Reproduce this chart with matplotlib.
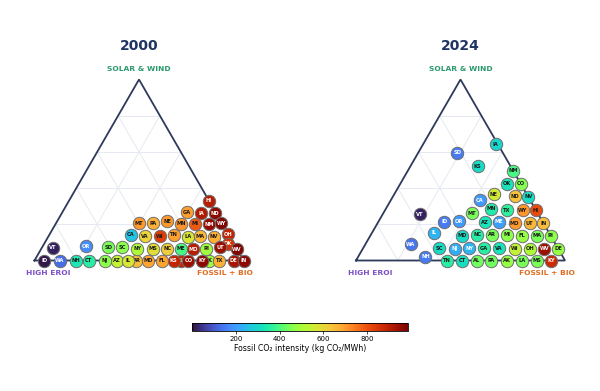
import numpy as np
import matplotlib.pyplot as plt
from matplotlib import colors as mcolors
from matplotlib import cm

# Shares: solar & wind (top corner) and fossil + bio (right corner).
# High EROI (left corner) is the remainder.
states_2000 = ['HI', 'GA', 'IA', 'ND', 'MT', 'PA', 'NE', 'MN', 'MI', 'NM',
               'WY', 'CA', 'VA', 'WI', 'TN', 'LA', 'MA', 'NV', 'OH', 'OK',
               'VT', 'OR', 'SD', 'SC', 'NY', 'MS', 'NC', 'ME', 'MO', 'RI',
               'UT', 'WV', 'ID', 'WA', 'NH', 'CT', 'NJ', 'AZ', 'IL', 'AR',
               'MD', 'FL', 'KS', 'AL', 'CO', 'KY', 'AK', 'TX', 'DE', 'IN']
solar_2000 = [0.330, 0.266, 0.261, 0.262, 0.206, 0.206, 0.217, 0.202, 0.202, 0.199,
              0.207, 0.141, 0.133, 0.135, 0.141, 0.130, 0.135, 0.130, 0.146, 0.092,
              0.071, 0.078, 0.073, 0.073, 0.064, 0.064, 0.064, 0.064, 0.061, 0.064,
              0.072, 0.061, 0.0, 0.0, 0.0, 0.0, 0.0, 0.0, 0.0, 0.0,
              0.0, 0.0, 0.0, 0.0, 0.0, 0.0, 0.0, 0.0, 0.0, 0.0]
fossil_2000 = [0.668, 0.595, 0.666, 0.734, 0.398, 0.463, 0.526, 0.602, 0.666, 0.735,
               0.791, 0.391, 0.460, 0.533, 0.596, 0.671, 0.724, 0.793, 0.854, 0.878,
               0.052, 0.209, 0.317, 0.384, 0.460, 0.536, 0.603, 0.669, 0.728, 0.790,
               0.852, 0.939, 0.047, 0.122, 0.199, 0.259, 0.336, 0.395, 0.449, 0.488,
               0.542, 0.610, 0.666, 0.701, 0.736, 0.803, 0.833, 0.885, 0.953, 1.000]
co2_2000 = [905, 700, 915, 965, 705, 670, 705, 715, 790, 955,
            975, 265, 610, 835, 700, 570, 660, 675, 885, 855,
            20, 175, 445, 465, 510, 590, 620, 395, 905, 490,
            945, 975, 10, 130, 335, 355, 465, 540, 570, 650,
            690, 690, 885, 885, 945, 965, 490, 670, 925, 965]

states_2024 = ['IA', 'SD', 'KS', 'NM', 'OK', 'CO', 'NE', 'ND', 'NV', 'CA',
               'MN', 'TX', 'WY', 'HI', 'MT', 'VT', 'ID', 'OR', 'AZ', 'ME',
               'MO', 'UT', 'IN', 'IL', 'MD', 'NC', 'AR', 'MI', 'FL', 'MA',
               'RI', 'WA', 'SC', 'NJ', 'NY', 'GA', 'VA', 'WI', 'OH', 'WV',
               'DE', 'NH', 'TN', 'CT', 'AL', 'PA', 'AK', 'LA', 'MS', 'KY']
solar_2024 = [0.642, 0.596, 0.522, 0.497, 0.424, 0.423, 0.366, 0.356, 0.352, 0.333,
              0.285, 0.279, 0.277, 0.277, 0.261, 0.255, 0.214, 0.218, 0.211, 0.213,
              0.207, 0.207, 0.207, 0.154, 0.138, 0.141, 0.141, 0.141, 0.138, 0.138,
              0.138, 0.091, 0.069, 0.064, 0.067, 0.067, 0.067, 0.065, 0.065, 0.064,
              0.064, 0.022, 0.0, 0.0, 0.0, 0.0, 0.0, 0.0, 0.0, 0.0]
fossil_2024 = [0.347, 0.187, 0.321, 0.503, 0.510, 0.577, 0.476, 0.584, 0.648, 0.425,
               0.503, 0.584, 0.659, 0.723, 0.424, 0.179, 0.315, 0.384, 0.510, 0.578,
               0.656, 0.728, 0.793, 0.295, 0.438, 0.509, 0.579, 0.651, 0.727, 0.796,
               0.862, 0.216, 0.363, 0.440, 0.508, 0.580, 0.652, 0.728, 0.798, 0.869,
               0.936, 0.321, 0.434, 0.509, 0.579, 0.647, 0.722, 0.794, 0.865, 0.934]
co2_2024 = [295, 150, 305, 395, 325, 455, 560, 640, 305, 195,
            345, 365, 710, 810, 445, 20, 150, 195, 325, 205,
            705, 660, 650, 235, 305, 355, 445, 465, 475, 445,
            465, 140, 305, 225, 235, 355, 325, 540, 510, 945,
            475, 150, 355, 315, 435, 435, 475, 445, 445, 875]

corner_labels = ['SOLAR & WIND', 'HIGH EROI', 'FOSSIL + BIO']
corner_colors = ['#2a9a6c', '#7d4fc4', '#e06d24']
cbar_ticks = [200, 400, 600, 800]

cmap = plt.get_cmap('turbo')
norm = mcolors.Normalize(vmin=0, vmax=985)
H = np.sqrt(3) / 2


def to_xy(solar, fossil):
    s = np.asarray(solar)
    f = np.asarray(fossil)
    return f + s / 2, s * H


def draw_panel(ax, year, states, solar, fossil, co2):
    ax.set_xlim(0, 1)
    ax.set_ylim(0, H)
    ax.axis('off')

    # light grid every 0.2
    for t in np.arange(0.2, 1.0, 0.2):
        ax.plot([t / 2, 1 - t / 2], [t * H, t * H], color='#e6e9f1', lw=0.7, zorder=1)
        ax.plot([t, t / 2 + 0.5], [0, (1 - t) * H], color='#e6e9f1', lw=0.7, zorder=1)
        ax.plot([t, t / 2], [0, t * H], color='#e6e9f1', lw=0.7, zorder=1)
    ax.plot([0, 1, 0.5, 0], [0, 0, H, 0], color='#2e3a5c', lw=1.3, zorder=2,
            solid_joinstyle='miter', clip_on=False)

    x, y = to_xy(solar, fossil)
    order = np.argsort(states)
    for i in order:
        ax.scatter(x[i], y[i], s=80, color=cmap(norm(co2[i])), edgecolor='#6e6e6e',
                   linewidth=0.7, zorder=3, clip_on=False)
        frac = norm(co2[i])
        tc = 'white' if (frac <= 0.25 or frac >= 0.86) else '#1a1a1a'
        ax.text(x[i], y[i], states[i], ha='center', va='center', fontsize=3.7,
                fontweight='bold', color=tc, zorder=3, clip_on=False)

    ax.text(0.5, 1.026, year, ha='center', va='center', fontsize=10,
            fontweight='bold', color='#1f3461')
    ax.text(0.5, 0.917, corner_labels[0], ha='center', va='center', fontsize=5.4,
            fontweight='bold', color=corner_colors[0])
    ax.text(-0.04, -0.06, corner_labels[1], ha='left', va='center', fontsize=5.4,
            fontweight='bold', color=corner_colors[1])
    ax.text(1.045, -0.06, corner_labels[2], ha='right', va='center', fontsize=5.4,
            fontweight='bold', color=corner_colors[2])


fig = plt.figure(figsize=(6, 3.91), dpi=100)
ax1 = fig.add_axes([34.5 / 600, 130.5 / 391, 209 / 600, 181 / 391])
ax2 = fig.add_axes([356 / 600, 130.5 / 391, 209 / 600, 181 / 391])
draw_panel(ax1, '2000', states_2000, solar_2000, fossil_2000, co2_2000)
draw_panel(ax2, '2024', states_2024, solar_2024, fossil_2024, co2_2024)

cax = fig.add_axes([192 / 600, 60.3 / 391, 215.5 / 600, 8 / 391])
cb = fig.colorbar(cm.ScalarMappable(norm=norm, cmap=cmap), cax=cax,
                  orientation='horizontal', ticks=cbar_ticks)
cb.outline.set_linewidth(0.6)
cb.ax.tick_params(labelsize=5, length=2, width=0.5, pad=1.5)
cb.set_label('Fossil CO₂ intensity (kg CO₂/MWh)', fontsize=5.6, labelpad=2)

fig.savefig('out.png', dpi=100)
